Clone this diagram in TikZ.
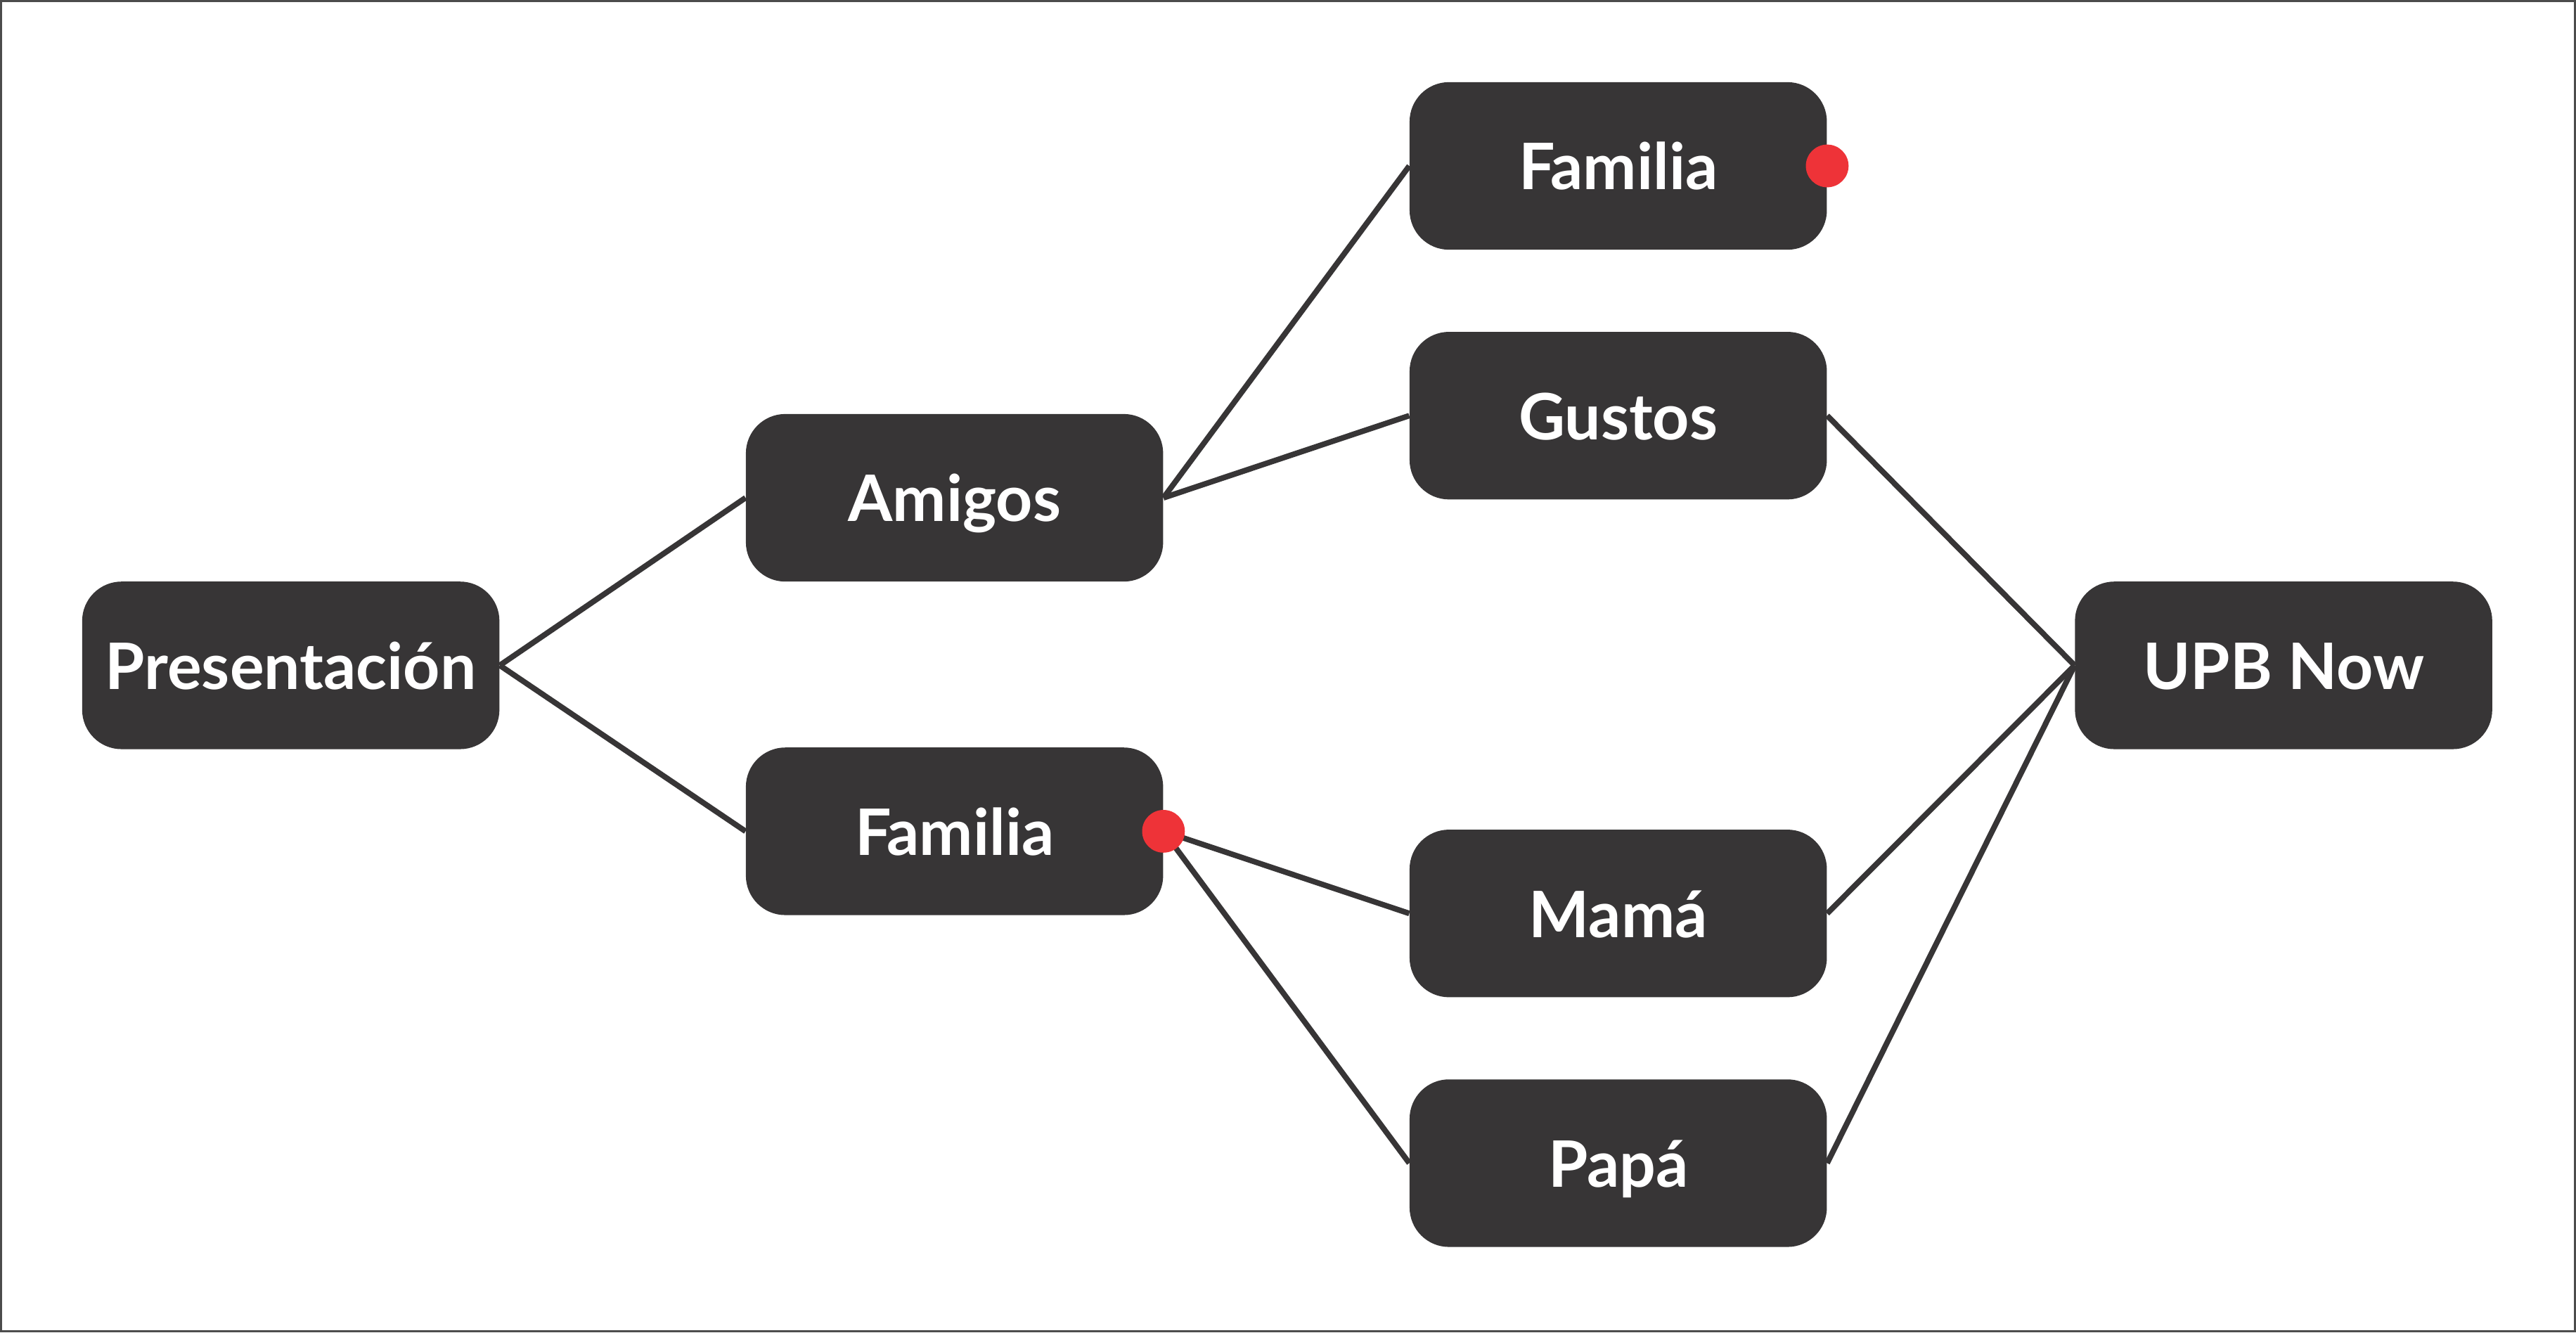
\documentclass[tikz,border=0pt]{standalone}
\usepackage{fontspec}
\setmainfont{Lato}
\usepackage{tikz}
\usetikzlibrary{positioning}
\definecolor{boxgray}{RGB}{55,53,54}
\definecolor{dotred}{RGB}{238,51,56}

\begin{document}
\begin{tikzpicture}[
  x=1pt, y=-1pt,
  topic/.style={rectangle, fill=boxgray, rounded corners=24pt, minimum width=254pt, minimum height=102pt, inner sep=0pt, text=white, font=\fontsize{39}{46}\selectfont\bfseries, text height=29pt, text depth=0pt},
  link/.style={line width=3.4pt, boxgray},
  marker/.style={circle, fill=dotred, minimum size=26pt, inner sep=0pt}
]
  \useasboundingbox (0,0) rectangle (1568,811);
  \draw[line width=1.2pt, black!70] (0.6,0.6) rectangle (1567.4,810.4);

  \node[topic] (pres) at (177,405) {Presentación};
  \node[topic] (amigos) at (581,303) {Amigos};
  \node[topic] (fam) at (581,506) {Familia};
  \node[topic] (famtop) at (985,101) {Familia};
  \node[topic] (gustos) at (985,253) {Gustos};
  \node[topic] (mama) at (985,556) {Mamá};
  \node[topic] (papa) at (985,708) {Papá};
  \node[topic] (upb) at (1390,405) {UPB Now};

  \foreach \a/\b in {pres/amigos,pres/fam,amigos/famtop,amigos/gustos,fam/mama,fam/papa,gustos/upb,mama/upb,papa/upb} {
    \draw[link] (\a.east) -- (\b.west);
  }

  \node[marker] (dottop) at (famtop.east) {};
  \node[marker] (dotmid) at (fam.east) {};
\end{tikzpicture}
\end{document}
